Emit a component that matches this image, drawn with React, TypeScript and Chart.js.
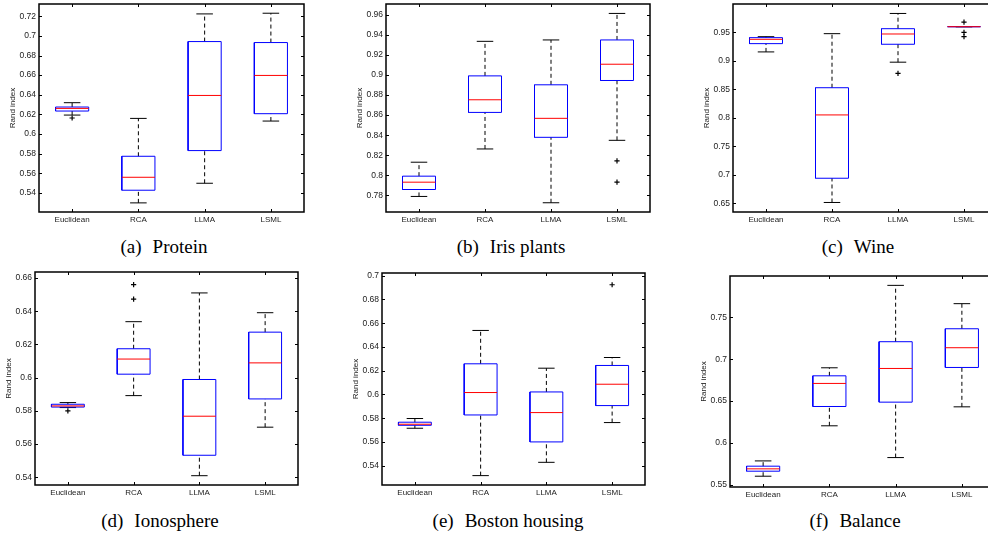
import React, { useEffect, useRef } from "react";
import { Chart, registerables } from "chart.js";

Chart.register(...registerables);

const categories = ["Euclidean", "RCA", "LLMA", "LSML"];

// (a) Protein
const proteinLow = [0.6193, 0.5298, 0.5498, 0.6132];
const proteinQ1 = [0.6234, 0.5427, 0.5831, 0.6207];
const proteinMedian = [0.6261, 0.5559, 0.6393, 0.6597];
const proteinQ3 = [0.6275, 0.5773, 0.6942, 0.6932];
const proteinHigh = [0.6319, 0.6159, 0.7224, 0.7231];
const proteinOutliers = [[0.6163], [], [], []];

// (b) Iris plants
const irisLow = [0.779, 0.8263, 0.7727, 0.8349];
const irisQ1 = [0.7859, 0.8627, 0.8379, 0.8945];
const irisMedian = [0.7932, 0.8753, 0.8568, 0.9107];
const irisQ3 = [0.7992, 0.8991, 0.8902, 0.9349];
const irisHigh = [0.8131, 0.9335, 0.9349, 0.9613];
const irisOutliers = [[], [], [], [0.8144, 0.7932]];

// (c) Wine
const wineLow = [0.9157, 0.6517, 0.8977, 0.9599];
const wineQ1 = [0.9302, 0.6942, 0.9291, 0.9599];
const wineMedian = [0.9378, 0.8052, 0.9471, 0.9599];
const wineQ3 = [0.9407, 0.8529, 0.9564, 0.9599];
const wineHigh = [0.9424, 0.9477, 0.9831, 0.9599];
const wineOutliers = [[], [], [0.8779], [0.968, 0.95, 0.9424]];

// (d) Ionosphere
const ionoLow = [0.582, 0.5892, 0.541, 0.5702];
const ionoQ1 = [0.5823, 0.6021, 0.5533, 0.5872];
const ionoMedian = [0.583, 0.6112, 0.5768, 0.6089];
const ionoQ3 = [0.584, 0.6174, 0.5989, 0.6274];
const ionoHigh = [0.585, 0.6337, 0.651, 0.6391];
const ionoOutliers = [[0.58], [0.656, 0.6473], [], []];

// (e) Boston housing
const bostonLow = [0.5715, 0.5316, 0.5428, 0.5763];
const bostonQ1 = [0.574, 0.5827, 0.56, 0.5906];
const bostonMedian = [0.5749, 0.6016, 0.5847, 0.6086];
const bostonQ3 = [0.5766, 0.6258, 0.6021, 0.6244];
const bostonHigh = [0.5797, 0.6539, 0.6221, 0.6311];
const bostonOutliers = [[], [], [], [0.6924]];

// (f) Balance
const balanceLow = [0.56, 0.6203, 0.5823, 0.643];
const balanceQ1 = [0.566, 0.6434, 0.6486, 0.6901];
const balanceMedian = [0.5688, 0.671, 0.6889, 0.7137];
const balanceQ3 = [0.572, 0.6801, 0.7209, 0.7364];
const balanceHigh = [0.5783, 0.6897, 0.7883, 0.7664];
const balanceOutliers = [[], [], [], []];

// y-axis limits and tick steps
const proteinAxis = [0.5205, 0.7325, 0.02];
const irisAxis = [0.7635, 0.9707, 0.02];
const wineAxis = [0.635, 0.9997, 0.05];
const ionoAxis = [0.5354, 0.6636, 0.02];
const bostonAxis = [0.5237, 0.7023, 0.02];
const balanceAxis = [0.5471, 0.7995, 0.05];

type PanelData = {
  tag: string;
  name: string;
  low: number[];
  q1: number[];
  med: number[];
  q3: number[];
  high: number[];
  outliers: number[][];
  axis: number[];
};

const panelData: PanelData[] = [
  { tag: "(a)", name: "Protein", low: proteinLow, q1: proteinQ1, med: proteinMedian, q3: proteinQ3, high: proteinHigh, outliers: proteinOutliers, axis: proteinAxis },
  { tag: "(b)", name: "Iris plants", low: irisLow, q1: irisQ1, med: irisMedian, q3: irisQ3, high: irisHigh, outliers: irisOutliers, axis: irisAxis },
  { tag: "(c)", name: "Wine", low: wineLow, q1: wineQ1, med: wineMedian, q3: wineQ3, high: wineHigh, outliers: wineOutliers, axis: wineAxis },
  { tag: "(d)", name: "Ionosphere", low: ionoLow, q1: ionoQ1, med: ionoMedian, q3: ionoQ3, high: ionoHigh, outliers: ionoOutliers, axis: ionoAxis },
  { tag: "(e)", name: "Boston housing", low: bostonLow, q1: bostonQ1, med: bostonMedian, q3: bostonQ3, high: bostonHigh, outliers: bostonOutliers, axis: bostonAxis },
  { tag: "(f)", name: "Balance", low: balanceLow, q1: balanceQ1, med: balanceMedian, q3: balanceQ3, high: balanceHigh, outliers: balanceOutliers, axis: balanceAxis },
];

// layout (page pixels): plot area left, top, width, height; caption centre x, y
const panelLayout = [
  { left: 39, top: 4, width: 265, height: 208, capX: 164, capY: 248 },
  { left: 386, top: 4, width: 264, height: 208, capX: 511, capY: 248 },
  { left: 733, top: 4, width: 264, height: 208, capX: 858, capY: 248 },
  { left: 35, top: 272, width: 263, height: 213, capX: 160, capY: 522 },
  { left: 382, top: 273, width: 263, height: 212, capX: 508, capY: 522 },
  { left: 730, top: 276, width: 265, height: 211, capX: 855, capY: 522 },
];

const AXIS_W = 40;
const PAD_TOP = 12;
const PAD_RIGHT = 10;
const XAXIS_H = 20;
const FONT = "'Liberation Sans', Arial, Helvetica, sans-serif";
const BOX_HALF = 0.25;
const CAP_HALF = 0.125;

const framePlugin = {
  id: "matlabFrame",
  afterDraw(chart: any) {
    const { ctx, chartArea: a, scales } = chart;
    const tl = 3;
    ctx.save();
    ctx.strokeStyle = "#000";
    ctx.lineWidth = 1;
    ctx.beginPath();
    scales.y.ticks.forEach((t: any) => {
      const y = Math.round(scales.y.getPixelForValue(t.value)) + 0.5;
      ctx.moveTo(a.left, y);
      ctx.lineTo(a.left + tl, y);
      ctx.moveTo(a.right, y);
      ctx.lineTo(a.right - tl, y);
    });
    scales.x.ticks.forEach((t: any) => {
      const x = Math.round(scales.x.getPixelForValue(t.value)) + 0.5;
      ctx.moveTo(x, a.top);
      ctx.lineTo(x, a.top + tl);
      ctx.moveTo(x, a.bottom);
      ctx.lineTo(x, a.bottom - tl);
    });
    ctx.stroke();
    ctx.lineWidth = 1.5;
    ctx.strokeRect(a.left, a.top, a.right - a.left, a.bottom - a.top);
    ctx.restore();
  },
};

function buildDatasets(p: PanelData) {
  const boxes: any[] = [];
  const whiskers: any[] = [];
  const caps: any[] = [];
  const medians: any[] = [];
  const outs: any[] = [];
  categories.forEach((_, i) => {
    const c = i + 1;
    const gap = { x: c, y: null };
    boxes.push(
      { x: c - BOX_HALF, y: p.q1[i] },
      { x: c + BOX_HALF, y: p.q1[i] },
      { x: c + BOX_HALF, y: p.q3[i] },
      { x: c - BOX_HALF, y: p.q3[i] },
      { x: c - BOX_HALF, y: p.q1[i] },
      gap
    );
    whiskers.push(
      { x: c, y: p.q3[i] },
      { x: c, y: p.high[i] },
      gap,
      { x: c, y: p.low[i] },
      { x: c, y: p.q1[i] },
      gap
    );
    caps.push(
      { x: c - CAP_HALF, y: p.high[i] },
      { x: c + CAP_HALF, y: p.high[i] },
      gap,
      { x: c - CAP_HALF, y: p.low[i] },
      { x: c + CAP_HALF, y: p.low[i] },
      gap
    );
    medians.push({ x: c - BOX_HALF, y: p.med[i] }, { x: c + BOX_HALF, y: p.med[i] }, gap);
    p.outliers[i].forEach((v) => outs.push({ x: c, y: v }));
  });
  const line = {
    pointRadius: 0,
    pointHoverRadius: 0,
    fill: false,
    tension: 0,
    spanGaps: false,
    borderWidth: 1,
  };
  // first dataset is drawn on top
  return [
    {
      data: outs,
      showLine: false,
      pointStyle: "cross",
      pointRadius: 2.6,
      pointHoverRadius: 2.6,
      pointBorderColor: "#000",
      pointBorderWidth: 1.2,
      borderColor: "#000",
    },
    { ...line, data: medians, borderColor: "#ff0000" },
    { ...line, data: boxes, borderColor: "#0000ff" },
    { ...line, data: caps, borderColor: "#000" },
    { ...line, data: whiskers, borderColor: "#000", borderDash: [4, 3] },
  ];
}

function BoxPanel({ p, l }: { p: PanelData; l: (typeof panelLayout)[number] }) {
  const ref = useRef<HTMLCanvasElement | null>(null);
  const W = l.width + AXIS_W + PAD_RIGHT;
  const H = l.height + PAD_TOP + XAXIS_H;
  useEffect(() => {
    if (!ref.current) return;
    const [yMin, yMax, yStep] = p.axis;
    const chart = new Chart(ref.current, {
      type: "line",
      data: { datasets: buildDatasets(p) as any },
      options: {
        animation: false,
        responsive: false,
        events: [],
        layout: { padding: { left: 0, top: PAD_TOP, right: PAD_RIGHT, bottom: 0 } },
        plugins: {
          legend: { display: false },
          tooltip: { enabled: false },
          title: { display: false },
        },
        scales: {
          x: {
            type: "linear",
            min: 0.5,
            max: 4.5,
            grid: { display: false, drawTicks: false },
            border: { display: false },
            afterBuildTicks: (s: any) => {
              s.ticks = categories.map((_, i) => ({ value: i + 1 }));
            },
            afterFit: (s: any) => {
              s.height = XAXIS_H;
            },
            ticks: {
              autoSkip: false,
              maxRotation: 0,
              padding: 3,
              color: "#222",
              font: { family: FONT, size: 8 },
              callback: (v: any) => categories[Math.round(Number(v)) - 1] ?? "",
            },
          },
          y: {
            type: "linear",
            min: yMin,
            max: yMax,
            grid: { display: false, drawTicks: false },
            border: { display: false },
            afterBuildTicks: (s: any) => {
              const ticks: any[] = [];
              const start = Math.ceil(yMin / yStep - 1e-6);
              for (let k = start; k * yStep <= yMax + 1e-9; k++) {
                ticks.push({ value: Number((k * yStep).toFixed(4)) });
              }
              s.ticks = ticks;
            },
            afterFit: (s: any) => {
              s.width = AXIS_W;
            },
            ticks: {
              padding: 3,
              color: "#222",
              font: { family: FONT, size: 8.5 },
              callback: (v: any) => String(Number(Number(v).toFixed(2))),
            },
            title: {
              display: true,
              text: "Rand index",
              color: "#222",
              font: { family: FONT, size: 8 },
              padding: { top: 8.5, bottom: 0 },
            },
          },
        },
      },
      plugins: [framePlugin as any],
    });
    return () => chart.destroy();
  }, []);
  return (
    <canvas
      ref={ref}
      width={W}
      height={H}
      style={{ position: "absolute", left: l.left - AXIS_W, top: l.top - PAD_TOP, width: W, height: H }}
    />
  );
}

export default function App() {
  return (
    <div
      style={{
        position: "absolute",
        left: 0,
        top: 0,
        width: 988,
        height: 540,
        overflow: "hidden",
        background: "#fff",
      }}
    >
      {panelData.map((p, i) => (
        <BoxPanel key={p.tag} p={p} l={panelLayout[i]} />
      ))}
      {panelData.map((p, i) => (
        <div
          key={"cap" + p.tag}
          style={{
            position: "absolute",
            left: panelLayout[i].capX - 150,
            top: panelLayout[i].capY - 11,
            width: 300,
            textAlign: "center",
            whiteSpace: "nowrap",
            fontFamily: "'Liberation Serif', 'Times New Roman', serif",
            fontSize: 19,
            lineHeight: "19px",
            color: "#000",
          }}
        >
          <span>{p.tag}</span>
          <span style={{ marginLeft: 11 }}>{p.name}</span>
        </div>
      ))}
    </div>
  );
}
